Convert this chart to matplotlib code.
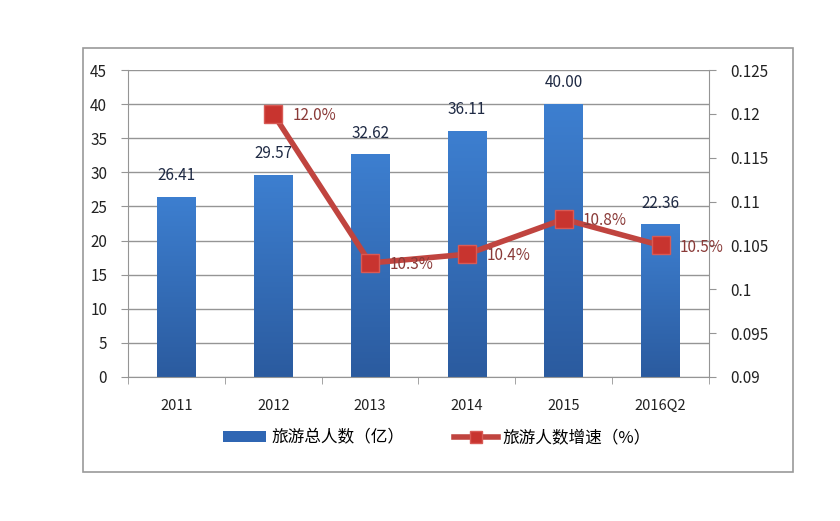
import matplotlib.pyplot as plt
import numpy as np
from matplotlib.colors import LinearSegmentedColormap
from matplotlib.lines import Line2D
from matplotlib.patches import Patch, Rectangle

plt.rcParams["font.family"] = ["Noto Sans CJK SC", "DejaVu Sans"]

categories = ["2011", "2012", "2013", "2014", "2015", "2016Q2"]
tourists = [26.41, 29.57, 32.62, 36.11, 40.00, 22.36]
growth_cats = ["2012", "2013", "2014", "2015", "2016Q2"]
growth = [0.120, 0.103, 0.104, 0.108, 0.105]
growth_labels = ["12.0%", "10.3%", "10.4%", "10.8%", "10.5%"]
right_ticks = [0.09, 0.095, 0.1, 0.105, 0.11, 0.115, 0.12, 0.125]

BAR_TOP = "#3d7fd0"
BAR_BOTTOM = "#2b5b9f"
LINE_RED = "#c0443f"
GRID = "#959595"

fig = plt.figure(figsize=(8.4, 5.21), dpi=100)
fig.patches.append(Rectangle((0.099, 0.094), 0.845, 0.814, transform=fig.transFigure,
                             fill=False, edgecolor="#9a9a9a", linewidth=1.2))

ax = fig.add_axes([0.1524, 0.2764, 0.6916, 0.5892])
x = np.arange(len(categories))
bars = ax.bar(x, tourists, width=0.4, color=BAR_BOTTOM, zorder=2)

# vertical gradient on each bar (lighter at top)
grad = np.linspace(1, 0, 256).reshape(-1, 1)
cmap = LinearSegmentedColormap.from_list("bar", [BAR_BOTTOM, BAR_TOP])
for b in bars:
    bx, by = b.get_x(), b.get_y()
    w, h = b.get_width(), b.get_height()
    im = ax.imshow(grad, extent=[bx, bx + w, by, by + h], aspect="auto",
                   cmap=cmap, zorder=2.1)
    im.set_clip_path(b)

for xi, v in zip(x, tourists):
    ax.text(xi, v + 1.9, f"{v:.2f}", ha="center", va="bottom", fontsize=11,
            color="#1f2a44", zorder=5)

ax.set_xlim(-0.5, len(categories) - 0.5)
ax.set_ylim(0, 45)
ax.set_yticks(range(0, 50, 5))
ax.yaxis.grid(True, color=GRID, linewidth=1.0, zorder=0)
ax.set_axisbelow(True)
ax.set_xticks(x)
ax.set_xticklabels(categories)
ax.set_xticks(np.arange(-0.5, len(categories)), minor=True)
ax.tick_params(axis="x", which="major", length=0, pad=16, labelsize=10.5, colors="#222222")
ax.tick_params(axis="x", which="minor", length=5, color=GRID)
ax.tick_params(axis="y", length=5, color=GRID, labelsize=11, pad=10, labelcolor="#222222")
for s in ["top", "right"]:
    ax.spines[s].set_visible(False)
for s in ["left", "bottom"]:
    ax.spines[s].set_color(GRID)

ax2 = ax.twinx()
gx = [categories.index(c) for c in growth_cats]
ax2.plot(gx, growth, color=LINE_RED, linewidth=4, marker="s", markersize=13,
         markerfacecolor="#c8342f", markeredgecolor="#d85a55", zorder=4)
for xi, v, lab in zip(gx, growth, growth_labels):
    ax2.text(xi + 0.2, v - 0.0002, lab, ha="left", va="center", fontsize=11,
             color="#8a3a38", zorder=5)
ax2.set_ylim(0.09, 0.125)
ax2.set_yticks(right_ticks)
ax2.set_yticklabels([f"{t:g}" for t in right_ticks])
ax2.tick_params(axis="y", length=5, color=GRID, labelsize=11, pad=10, labelcolor="#222222")
for s in ["top", "left", "bottom"]:
    ax2.spines[s].set_visible(False)
ax2.spines["right"].set_color(GRID)

handles = [
    Patch(facecolor="#2f66b3", edgecolor="none"),
    Line2D([0], [0], color=LINE_RED, linewidth=4, marker="s", markersize=9,
           markerfacecolor="#c8342f", markeredgecolor="#d85a55"),
]
fig.legend(handles, ["旅游总人数（亿）", "旅游人数增速（%）"], loc="center",
           bbox_to_anchor=(0.52, 0.16), ncol=2, frameon=False, fontsize=12,
           handlelength=2.6, handleheight=0.6, handletextpad=0.3, columnspacing=3.0)

fig.savefig("out.png", dpi=100)
